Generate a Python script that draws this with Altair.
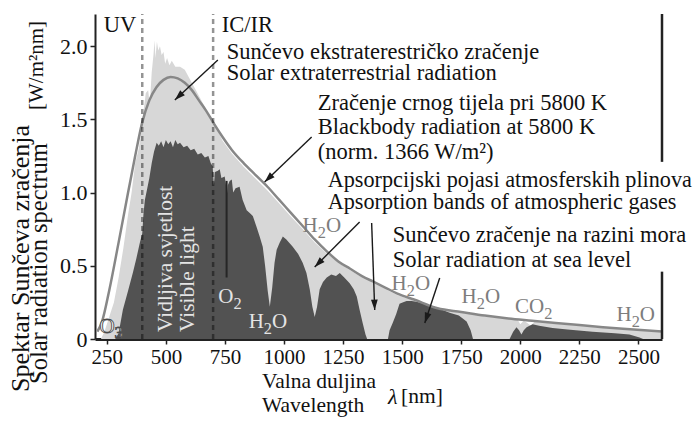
import math
import altair as alt
import pandas as pd

FONT = "Liberation Serif"
X_DOMAIN = [200, 2600]
Y_DOMAIN = [0, 2.22]
PLOT_W, PLOT_H = 567, 325

# Blackbody radiation at 5800 K (normalised to 1366 W/m2)
bb_nm = [210, 230, 260, 300, 340, 370, 400, 430, 460, 490, 520, 550, 580, 610, 640, 670, 700, 740, 780, 830,
         880, 930, 980, 1030, 1080, 1130, 1180, 1230, 1280, 1330, 1380, 1430, 1480, 1550, 1650, 1750, 1850, 1950,
         2050, 2150, 2250, 2350, 2450, 2600]
bb_val = [0.05, 0.12, 0.33, 0.66, 1.0, 1.25, 1.48, 1.63, 1.72, 1.77, 1.79, 1.78, 1.75, 1.70, 1.63, 1.56, 1.48,
          1.38, 1.29, 1.20, 1.12, 1.04, 0.95, 0.86, 0.77, 0.68, 0.60, 0.53, 0.48, 0.43, 0.39, 0.35, 0.31, 0.27,
          0.21, 0.185, 0.16, 0.14, 0.125, 0.11, 0.095, 0.08, 0.068, 0.052]

# Solar extraterrestrial spectrum
et_nm = [225, 240, 260, 280, 300, 320, 340, 355, 370, 385, 395, 405, 415, 425, 432, 440, 448, 452, 456, 462,
         468, 475, 482, 490, 497, 505, 515, 525, 540, 560, 580, 600, 630, 660, 690, 720, 740, 780, 830, 880,
         930, 980, 1030, 1080, 1130, 1180, 1230, 1280, 1330, 1380, 1430, 1480, 1550, 1650, 1750, 1850, 1950, 1990,
         2000, 2015, 2030, 2045, 2060, 2150, 2250, 2350, 2450, 2600]
et_val = [0.0, 0.05, 0.15, 0.25, 0.42, 0.62, 0.85, 1.0, 1.2, 1.3, 1.4, 1.55, 1.68, 1.7, 1.6, 1.82, 1.95, 2.04,
          1.92, 2.03, 1.97, 2.0, 1.94, 1.96, 1.88, 1.92, 1.87, 1.9, 1.86, 1.86, 1.84, 1.78, 1.69, 1.6, 1.5, 1.42,
          1.355, 1.265, 1.175, 1.095, 1.015, 0.925, 0.835, 0.75, 0.66, 0.585, 0.52, 0.47, 0.42, 0.38, 0.34, 0.30,
          0.262, 0.205, 0.18, 0.155, 0.135, 0.13, 0.1, 0.125, 0.11, 0.09, 0.118, 0.105, 0.09, 0.075, 0.064, 0.048]

# Solar radiation at sea level
sl_nm = [285, 300, 318, 340, 360, 375, 390, 400, 405, 411, 420, 430, 440, 450, 461, 470, 480, 490, 500, 510,
         520, 530, 540, 550, 560, 575, 590, 605, 620, 635, 650, 665, 680, 690, 698, 703, 708, 720, 728, 735,
         749, 754, 758, 762, 770, 779, 785, 795, 812, 825, 842, 855, 868, 885, 897, 910, 920, 931, 940, 950,
         960, 969, 982, 995, 1010, 1037, 1060, 1079, 1095, 1109, 1120, 1130, 1140, 1151, 1165, 1181, 1200, 1220,
         1236, 1255, 1278, 1295, 1308, 1320, 1333, 1345, 1352, 1440, 1447, 1460, 1475, 1489, 1502, 1519, 1540,
         1560, 1574, 1604, 1630, 1660, 1701, 1740, 1773, 1790, 1800, 1955, 1970, 1984, 1995, 2005, 2015, 2027,
         2052, 2080, 2137, 2200, 2306, 2400, 2462, 2505, 2520]
sl_val = [0.0, 0.04, 0.2, 0.33, 0.45, 0.55, 0.66, 0.72, 0.85, 0.95, 1.02, 1.1, 1.2, 1.28, 1.34, 1.32, 1.35,
          1.31, 1.36, 1.33, 1.35, 1.31, 1.36, 1.33, 1.34, 1.31, 1.32, 1.29, 1.3, 1.26, 1.27, 1.24, 1.25, 1.2,
          1.18, 1.05, 1.14, 1.15, 1.16, 1.1, 1.11, 1.06, 0.98, 1.05, 1.08, 1.09, 1.0, 1.03, 1.04, 0.95, 0.88,
          0.86, 0.84, 0.76, 0.70, 0.63, 0.5, 0.33, 0.22, 0.35, 0.52, 0.61, 0.66, 0.70, 0.68, 0.63, 0.58, 0.52,
          0.45, 0.34, 0.22, 0.15, 0.22, 0.34, 0.39, 0.42, 0.44, 0.43, 0.45, 0.42, 0.38, 0.34, 0.29, 0.2, 0.11,
          0.03, 0.0, 0.0, 0.06, 0.11, 0.17, 0.24, 0.25, 0.26, 0.26, 0.255, 0.25, 0.235, 0.225, 0.205, 0.18, 0.16,
          0.12, 0.06, 0.0, 0.0, 0.05, 0.08, 0.06, 0.03, 0.06, 0.08, 0.1, 0.09, 0.075, 0.065, 0.05, 0.04, 0.03,
          0.01, 0.0]

# O2 A-band streak
o2_nm = [757]
o2_lo = [0.42]
o2_hi = [1.08]

# UV / visible / IR borders
band_edges = [400, 700]

x_ticks = [250, 500, 750, 1000, 1250, 1500, 1750, 2000, 2250, 2500]
y_ticks = [0, 0.5, 1.0, 1.5, 2.0]

xs = alt.Scale(domain=X_DOMAIN, nice=False, zero=False)
ys = alt.Scale(domain=Y_DOMAIN, nice=False, zero=False)

x_axis = alt.Axis(values=x_ticks, title=None, grid=False, domainColor="#222", domainWidth=3,
                  tickColor="#222", tickSize=5, tickWidth=1.5, labelFont=FONT, labelFontSize=21,
                  labelColor="#111", labelPadding=2, format="d")
y_axis = alt.Axis(values=y_ticks, title=None, grid=False, domainColor="#222", domainWidth=2,
                  tickColor="#222", tickSize=5, tickWidth=1.5, labelFont=FONT, labelFontSize=22,
                  labelColor="#111", labelPadding=3,
                  labelExpr="datum.value == 0 ? '0' : format(datum.value, '.1f')")

NM_PER_PX = (X_DOMAIN[1] - X_DOMAIN[0]) / PLOT_W
V_PER_PX = (Y_DOMAIN[1] - Y_DOMAIN[0]) / PLOT_H


def X(field):
    return alt.X(field, type="quantitative", scale=xs, axis=x_axis)


def Y(field):
    return alt.Y(field, type="quantitative", scale=ys, axis=y_axis)


def to_px(nm, v):
    return (nm - X_DOMAIN[0]) / NM_PER_PX, (Y_DOMAIN[1] - v) / V_PER_PX


def from_px(px, py):
    return X_DOMAIN[0] + px * NM_PER_PX, Y_DOMAIN[1] - py * V_PER_PX


et_df = pd.DataFrame({"nm": et_nm, "v": et_val, "base": 0.0})
sl_df = pd.DataFrame({"nm": sl_nm, "v": sl_val, "base": 0.0})
bb_df = pd.DataFrame({"nm": bb_nm, "v": bb_val})

et_area = alt.Chart(et_df).mark_area(color="#d7d7d7").encode(x=X("nm"), y=Y("v"), y2="base:Q")
sl_area = alt.Chart(sl_df).mark_area(color="#525252").encode(x=X("nm"), y=Y("v"), y2="base:Q")

o2_line = alt.Chart(pd.DataFrame({"nm": o2_nm, "lo": o2_lo, "hi": o2_hi})).mark_rule(
    color="#262626", strokeWidth=2).encode(x=X("nm"), y=Y("lo"), y2="hi:Q")

bb_line = alt.Chart(bb_df).mark_line(color="#878787", strokeWidth=2.5, interpolate="monotone").encode(
    x=X("nm"), y=Y("v"))

edges_df = pd.DataFrame({"nm": band_edges, "lo": 0.0, "hi": Y_DOMAIN[1]})
edges = alt.Chart(edges_df).mark_rule(
    color="black", opacity=0.42, strokeWidth=2.5, strokeDash=[5, 4]).encode(
    x=X("nm"), y=Y("lo"), y2="hi:Q")

# right-hand frame line, broken where the annotation text runs over it
frame_df = pd.DataFrame({"nm": [2600, 2600], "lo": [0.0, 1.21], "hi": [0.46, Y_DOMAIN[1]]})
frame = alt.Chart(frame_df).mark_rule(color="#222", strokeWidth=2.5).encode(
    x=X("nm"), y=Y("lo"), y2="hi:Q")


def text_layer(rows, align="left", angle=0, **kw):
    df = pd.DataFrame(rows, columns=["label", "nm", "v", "fs", "col"])
    return alt.Chart(df).mark_text(align=align, baseline="middle", font=FONT, angle=angle, **kw).encode(
        x=X("nm"),
        y=Y("v"),
        text="label:N",
        size=alt.Size("fs:Q", scale=None),
        color=alt.Color("col:N", scale=None),
    )


# serif advance widths (em) for chemical formulas written glyph by glyph
ADV = {"H": 0.722, "O": 0.722, "C": 0.667, "2": 0.5, "3": 0.5}


def formula_rows(formula, nm, v, fs, col):
    """Lay out e.g. 'H_2O' centred on (nm, v); '_' marks a subscript digit."""
    glyphs = []
    sub = False
    for ch in formula:
        if ch == "_":
            sub = True
            continue
        size = fs * 0.78 if sub else fs
        glyphs.append((ch, size, fs * 0.32 if sub else 0.0))
        sub = False
    total = sum(ADV[g] * s for g, s, _ in glyphs)
    cx, cy = to_px(nm, v)
    px = cx - total / 2
    rows = []
    for g, s, drop in glyphs:
        gx, gy = from_px(px, cy + drop)
        rows.append([g, gx, gy, s, col])
        px += ADV[g] * s
    return rows


notes = text_layer([
    ["UV", 237, 2.145, 22.5, "#111"],
    ["IC/IR", 737, 2.145, 22.5, "#111"],
    ["Sunčevo ekstraterestričko zračenje", 758, 1.96, 22.5, "#111"],
    ["Solar extraterrestrial radiation", 758, 1.816, 22.5, "#111"],
    ["Zračenje crnog tijela pri 5800 K", 1143, 1.612, 22.5, "#111"],
    ["Blackbody radiation at 5800 K", 1143, 1.448, 22.5, "#111"],
    ["(norm. 1366 W/m²)", 1143, 1.277, 22.5, "#111"],
    ["Apsorpcijski pojasi atmosferskih plinova", 1185, 1.086, 22.2, "#111"],
    ["Apsorption bands of atmospheric gases", 1185, 0.936, 22.2, "#111"],
    ["Sunčevo zračenje na razini mora", 1460, 0.71, 22.5, "#111"],
    ["Solar radiation at sea level", 1460, 0.54, 22.5, "#111"],
])

GREY = "#7d7d7d"
LIGHT = "#e4e4e4"
gas_rows = []
gas_rows += formula_rows("H_2O", 1160, 0.772, 21, GREY)
gas_rows += formula_rows("H_2O", 1537, 0.376, 21, GREY)
gas_rows += formula_rows("H_2O", 1833, 0.287, 21, GREY)
gas_rows += formula_rows("CO_2", 2057, 0.219, 21, GREY)
gas_rows += formula_rows("H_2O", 2489, 0.164, 21, GREY)
gas_rows += formula_rows("O_2", 771, 0.287, 21, LIGHT)
gas_rows += formula_rows("H_2O", 932, 0.116, 21, LIGHT)
gases = text_layer(gas_rows)

ozone = text_layer(formula_rows("O_3", 268, 0.085, 21, "#ffffff"), stroke="#4a4a4a", strokeWidth=0.9)

visible = text_layer([
    ["Vidljiva svjetlost", 500, 0.048, 21.5, LIGHT],
    ["Visible light", 593, 0.048, 21.5, LIGHT],
], angle=270)


# axis titles placed by their pixel offsets from the plot origin
def px_row(label, px, py, fs):
    nm, v = from_px(px, py)
    return [label, nm, v, fs, "#111"]


x_titles = text_layer([
    px_row("Valna duljina", 167, 368, 21.5),
    px_row("Wavelength", 167, 392, 21.5),
    px_row("[nm]", 306, 383, 21.5),
])
x_lambda = text_layer([px_row("λ", 293, 383, 22)], fontStyle="italic")

y_titles = text_layer([
    px_row("Spektar Sunčeva zračenja", -74, 378, 26),
    px_row("Solar radiation spectrum", -55, 370, 24.5),
    px_row("[W/m²nm]", -58, 96, 21),
], angle=270)

# arrows: start point -> tip
arrow_x0 = [720, 1117, 1320, 1371, 1659]
arrow_y0 = [1.906, 1.380, 0.799, 0.792, 0.417]
arrow_x1 = [538, 918, 1130, 1384, 1596]
arrow_y1 = [1.633, 1.072, 0.492, 0.198, 0.109]

angles = []
for a, b, c, d in zip(arrow_x0, arrow_y0, arrow_x1, arrow_y1):
    p0 = to_px(a, b)
    p1 = to_px(c, d)
    dx, dy = p1[0] - p0[0], p1[1] - p0[1]
    angles.append(math.degrees(math.atan2(dx, -dy)) % 360)

arrow_df = pd.DataFrame({"x0": arrow_x0, "y0": arrow_y0, "x1": arrow_x1, "y1": arrow_y1, "ang": angles})

arrow_lines = alt.Chart(arrow_df).mark_rule(color="#1a1a1a", strokeWidth=1.4).encode(
    x=X("x0"), y=Y("y0"), x2="x1:Q", y2="y1:Q")

arrow_heads = alt.Chart(arrow_df).mark_point(
    shape="M 0 0 L 0.42 1.3 L -0.42 1.3 Z", filled=True, color="#1a1a1a", opacity=1, size=260,
    strokeWidth=0).encode(
    x=X("x1"), y=Y("y1"), angle=alt.Angle("ang:Q", scale=None))

chart = alt.layer(
    et_area, sl_area, o2_line, bb_line, edges, frame,
    notes, gases, ozone, visible,
    x_titles, x_lambda, y_titles,
    arrow_lines, arrow_heads,
).properties(
    width=PLOT_W,
    height=PLOT_H,
    autosize=alt.AutoSizeParams(type="none"),
    padding={"left": 95, "top": 14, "right": 32, "bottom": 82},
    background="white",
).configure_view(strokeWidth=0)

chart.save("out.html", embed_options={"renderer": "svg", "actions": False})
